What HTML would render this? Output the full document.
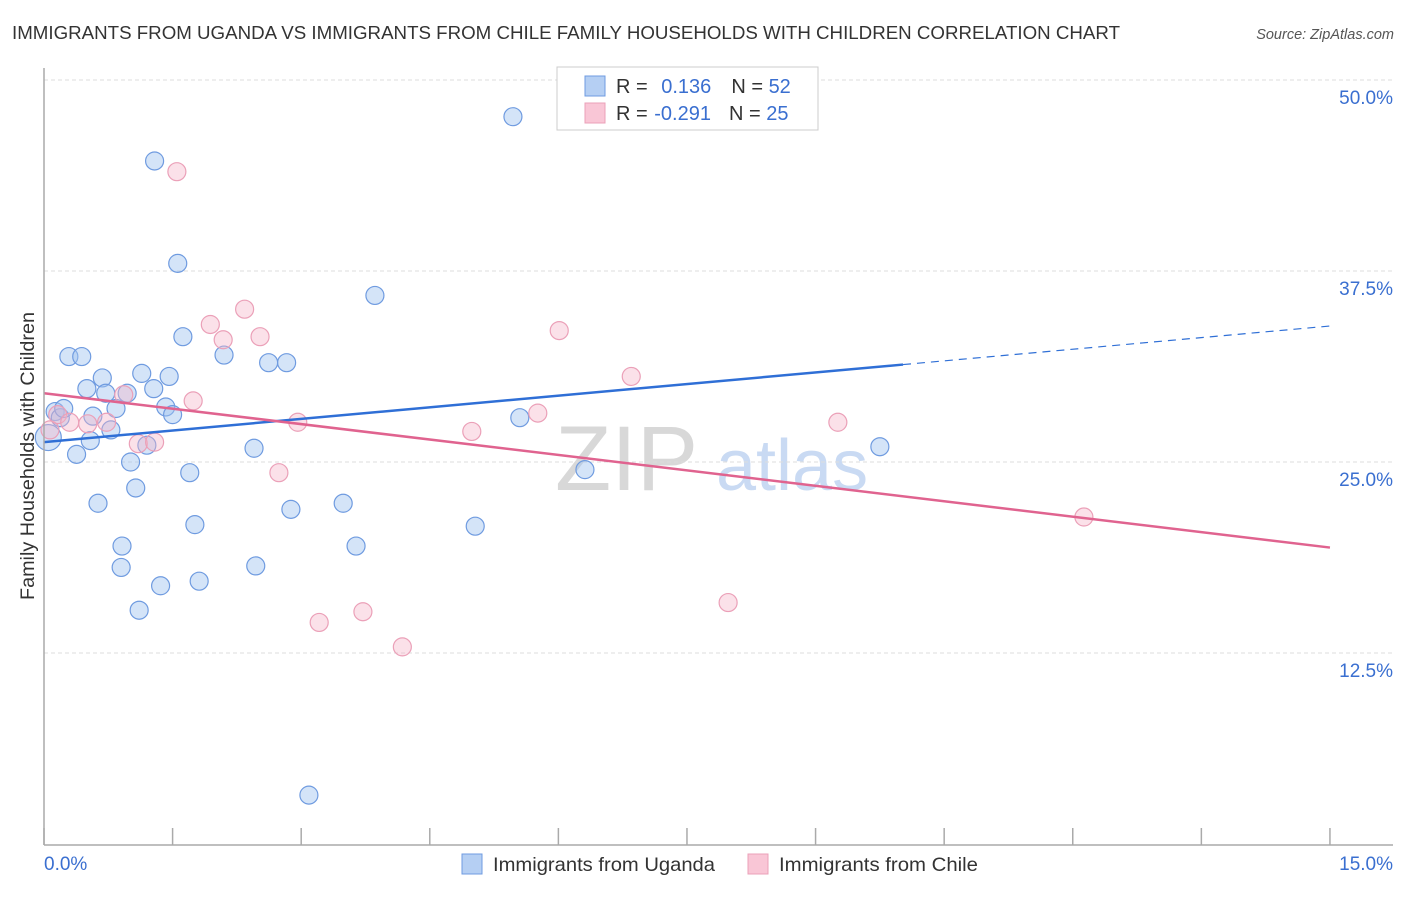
<!DOCTYPE html>
<html><head><meta charset="utf-8"><style>
body{margin:0;background:#fff;font-family:"Liberation Sans",sans-serif;}
svg text{font-family:"Liberation Sans",sans-serif;}
</style></head><body>
<svg id="c" width="1406" height="892" xmlns="http://www.w3.org/2000/svg">
<text x="12" y="39" font-size="18" fill="#333" textLength="1108" lengthAdjust="spacingAndGlyphs">IMMIGRANTS FROM UGANDA VS IMMIGRANTS FROM CHILE FAMILY HOUSEHOLDS WITH CHILDREN CORRELATION CHART</text>
<text x="1394" y="39" font-size="14.5" fill="#555" text-anchor="end" font-style="italic">Source: ZipAtlas.com</text>
<text x="555" y="490" font-size="92" fill="#d8d8d8" font-family="Liberation Serif">ZIP</text>
<text x="716" y="490" font-size="72" fill="#c9daf3">atlas</text>
<g id="grid"></g>
<g id="pts"></g>
<g id="trend"></g>
<line x1="44" y1="68" x2="44" y2="845" stroke="#aaa" stroke-width="1.5"/>
<line x1="44" y1="845" x2="1393" y2="845" stroke="#aaa" stroke-width="1.5"/>
<text transform="translate(34,456) rotate(-90)" font-size="19" fill="#333" text-anchor="middle" textLength="288" lengthAdjust="spacingAndGlyphs">Family Households with Children</text>
<text x="44" y="870" font-size="19" fill="#3a6fd0">0.0%</text>
<text x="1393" y="870" font-size="19" fill="#3a6fd0" text-anchor="end">15.0%</text>
<g>
<rect x="557" y="67" width="261" height="63" fill="#fff" stroke="#ccc"/>
<rect x="585" y="76" width="20" height="20" fill="#b5cff3" stroke="#6f9be0"/>
<rect x="585" y="103" width="20" height="20" fill="#f9c6d6" stroke="#eba0b8"/>
<text x="616" y="93" font-size="20" fill="#333">R = <tspan fill="#3a6fd0" dx="8">0.136</tspan><tspan dx="20">N = </tspan><tspan fill="#3a6fd0">52</tspan></text>
<text x="616" y="120" font-size="20" fill="#333">R = <tspan fill="#3a6fd0" dx="1">-0.291</tspan><tspan dx="18">N = </tspan><tspan fill="#3a6fd0">25</tspan></text>
</g>
<g>
<rect x="462" y="854" width="20" height="20" fill="#b5cff3" stroke="#6f9be0"/>
<text x="493" y="871" font-size="19.5" fill="#333" textLength="222" lengthAdjust="spacingAndGlyphs">Immigrants from Uganda</text>
<rect x="748" y="854" width="20" height="20" fill="#f9c6d6" stroke="#eba0b8"/>
<text x="779" y="871" font-size="19.5" fill="#333" textLength="199" lengthAdjust="spacingAndGlyphs">Immigrants from Chile</text>
</g>
</svg>
<script>
const yTicks=[12.5,25,37.5,50];
const yTickLabels=["12.5%","25.0%","37.5%","50.0%"];
const xTicks=[0,1.5,3,4.5,6,7.5,9,10.5,12,13.5,15];
const ugandaX=[0.05,0.13,0.19,0.23,0.29,0.38,0.44,0.50,0.54,0.57,0.63,0.68,0.72,0.78,0.84,0.91,0.90,0.97,1.01,1.07,1.11,1.14,1.20,1.28,1.29,1.36,1.42,1.46,1.50,1.56,1.62,1.70,1.76,1.81,2.10,2.45,2.47,2.62,2.83,2.88,3.09,3.49,3.64,3.86,5.03,5.47,5.55,6.31,9.75];
const ugandaY=[26.6,28.3,27.9,28.5,31.9,25.5,31.9,29.8,26.4,28.0,22.3,30.5,29.5,27.1,28.5,19.5,18.1,29.5,25.0,23.3,15.3,30.8,26.1,29.8,44.7,16.9,28.6,30.6,28.1,38.0,33.2,24.3,20.9,17.2,32.0,25.9,18.2,31.5,31.5,21.9,3.2,22.3,19.5,35.9,20.8,47.6,27.9,24.5,26.0];
const chileX=[0.07,0.16,0.30,0.51,0.73,0.93,1.10,1.29,1.55,1.74,1.94,2.09,2.34,2.52,2.74,2.96,3.21,3.72,4.18,4.99,5.76,6.01,6.85,7.98,9.26,12.13];
const chileY=[27.1,28.1,27.6,27.5,27.6,29.4,26.2,26.3,44.0,29.0,34.0,33.0,35.0,33.2,24.3,27.6,14.5,15.2,12.9,27.0,28.2,33.6,30.6,15.8,27.6,21.4];
const ugandaTrend=[26.3,33.9];
const ugandaSolidEnd=10.02;
const chileTrend=[29.5,19.4];
const NS="http://www.w3.org/2000/svg";
const xs=v=>44+v*85.73, ys=v=>844-v*15.28;
function mk(t,a,p){const e=document.createElementNS(NS,t);for(const k in a)e.setAttribute(k,a[k]);p.appendChild(e);return e;}
const grid=document.getElementById('grid');
yTicks.forEach((t,i)=>{
 const l=mk('line',{x1:44,x2:1393,y1:ys(t),y2:ys(t),stroke:'#ddd','stroke-dasharray':'4,3'},grid);
 
 
 const tx=mk('text',{x:1393,y:ys(t)+24,'font-size':19,fill:'#3a6fd0','text-anchor':'end'},grid);
 tx.textContent=yTickLabels[i];
 
 
});
xTicks.forEach(t=>{
 const l=mk('line',{x1:xs(t),x2:xs(t),y1:828,y2:845,stroke:'#aaa','stroke-width':1.5},grid);
 
 
});
const pts=document.getElementById('pts');
ugandaX.forEach((x,i)=>{
 const c=mk('circle',{cx:xs(x),cy:ys(ugandaY[i]),r:i==0?13:9,fill:'rgba(160,196,240,0.45)',stroke:'#6f9be0','stroke-width':1.2},pts);
 
 
});
chileX.forEach((x,i)=>{
 const c=mk('circle',{cx:xs(x),cy:ys(chileY[i]),r:9,fill:'rgba(245,180,200,0.4)',stroke:'#eba0b8','stroke-width':1.2},pts);
 
 
});
const tr=document.getElementById('trend');
const ub=v=>ugandaTrend[0]+(ugandaTrend[1]-ugandaTrend[0])*v/15;
let l1=mk('line',{x1:xs(0),y1:ys(ub(0)),x2:xs(ugandaSolidEnd),y2:ys(ub(ugandaSolidEnd)),stroke:'#2f6fd6','stroke-width':2.5},tr);


let l2=mk('line',{x1:xs(ugandaSolidEnd),y1:ys(ub(ugandaSolidEnd)),x2:xs(15),y2:ys(ub(15)),stroke:'#2f6fd6','stroke-width':1.2,'stroke-dasharray':'8,6'},tr);


let l3=mk('line',{x1:xs(0),y1:ys(chileTrend[0]),x2:xs(15),y2:ys(chileTrend[1]),stroke:'#e0638f','stroke-width':2.5},tr);


</script>
</body></html>
